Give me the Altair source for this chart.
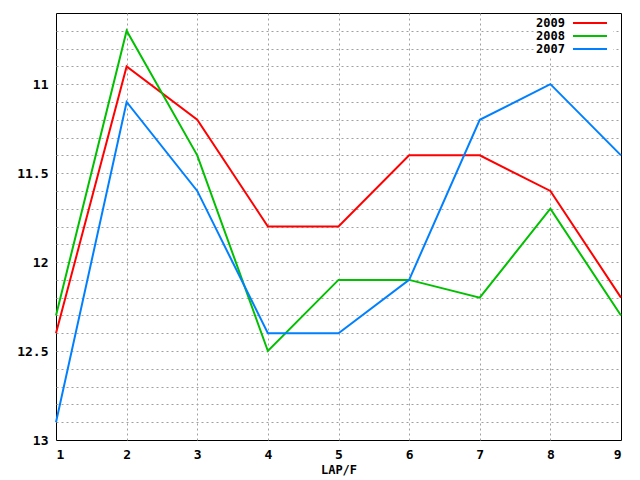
import altair as alt
import pandas as pd

laps = [1, 2, 3, 4, 5, 6, 7, 8, 9]
y2009 = [12.4, 10.9, 11.2, 11.8, 11.8, 11.4, 11.4, 11.6, 12.2]
y2008 = [12.3, 10.7, 11.4, 12.5, 12.1, 12.1, 12.2, 11.7, 12.3]
y2007 = [12.9, 11.1, 11.6, 12.4, 12.4, 12.1, 11.2, 11.0, 11.4]
series = ["2009", "2008", "2007"]
colors = ["#ff0000", "#00c000", "#0080ff"]

df = pd.concat(
    [
        pd.DataFrame({"lap": laps, "time": vals, "year": name})
        for name, vals in zip(series, [y2009, y2008, y2007])
    ]
)

FONT = "DejaVu Sans Mono"
ytick_values = [round(10.6 + 0.1 * i, 1) for i in range(25)]

color_scale = alt.Scale(domain=series, range=colors)

lines = (
    alt.Chart(df)
    .mark_line(strokeWidth=2)
    .encode(
        x=alt.X(
            "lap:Q",
            scale=alt.Scale(domain=[1, 9], nice=False),
            axis=alt.Axis(
                values=laps,
                title="LAP/F",
                format="d",
                grid=True,
                gridDash=[2, 3],
                gridColor="#a0a0a0",
                gridOpacity={
                    "condition": {"test": "datum.value < 1.5 || datum.value > 8.5", "value": 0},
                    "value": 1,
                },
                tickSize=0,
                labelPadding=8,
                titlePadding=3,
            ),
        ),
        y=alt.Y(
            "time:Q",
            scale=alt.Scale(domain=[10.6, 13], reverse=True, nice=False, zero=False),
            axis=alt.Axis(
                values=ytick_values,
                labelExpr="(round(datum.value*10) % 5 == 0 && datum.value > 10.65) ? datum.label : ''",
                format="~g",
                title=None,
                grid=True,
                gridDash=[2, 3],
                gridColor="#a0a0a0",
                gridOpacity={
                    "condition": {"test": "datum.value < 10.65 || datum.value > 12.95", "value": 0},
                    "value": 1,
                },
                tickSize=0,
                labelPadding=8,
            ),
        ),
        color=alt.Color("year:N", scale=color_scale, legend=None),
        detail="year:N",
    )
)

# white box behind the key, like gnuplot's
legend_bg = (
    alt.Chart(pd.DataFrame({"k": [0]}))
    .mark_rect(color="white")
    .encode(x=alt.value(479), x2=alt.value(557), y=alt.value(3), y2=alt.value(43))
)

legend_df = pd.DataFrame({"year": series, "idx": [0, 1, 2]})
legend_base = alt.Chart(legend_df).transform_calculate(py="10 + datum.idx * 13")
legend_text = legend_base.mark_text(
    align="right", baseline="middle", font=FONT, fontWeight="bold", fontSize=12
).encode(
    x=alt.value(509),
    y=alt.Y("py:Q", scale=None),
    text="year:N",
)
legend_line = legend_base.mark_rule(strokeWidth=2).encode(
    x=alt.value(517),
    x2=alt.value(551),
    y=alt.Y("py:Q", scale=None),
    color=alt.Color("year:N", scale=color_scale, legend=None),
)

chart = (
    alt.layer(lines, legend_bg, legend_text, legend_line)
    .properties(
        width=565,
        height=427,
        autosize=alt.AutoSizeParams(type="none"),
        padding={"left": 48, "top": 5, "right": 10, "bottom": 40},
    )
    .configure_view(stroke="black", strokeWidth=1)
    .configure_axis(
        labelFont=FONT,
        labelFontWeight="bold",
        labelFontSize=13,
        labelColor="black",
        titleFont=FONT,
        titleFontWeight="bold",
        titleFontSize=12,
        titleColor="black",
        domain=False,
    )
)

chart.save("out.html", embed_options={"renderer": "svg", "actions": False})
